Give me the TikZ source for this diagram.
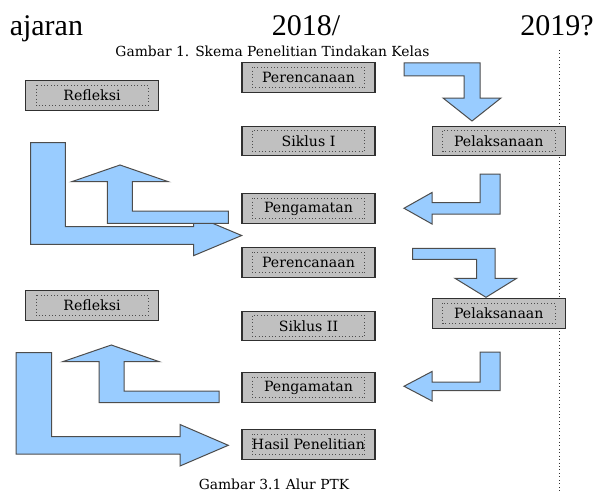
\documentclass[tikz,border=0pt]{standalone}
\usepackage{fontspec}
\setmainfont{Liberation Serif}
\newfontfamily\labelfont{DejaVu Serif}
\definecolor{boxfill}{HTML}{C0C0C0}
\definecolor{boxline}{HTML}{303030}
\definecolor{arrowfill}{HTML}{99CCFF}
\definecolor{arrowline}{HTML}{4D4D4D}
\tikzset{
  pbox/.style={draw=boxline, fill=boxfill, line width=0.9pt, minimum width=99.75pt,
    minimum height=22pt, inner sep=0pt, text=black,
    font=\labelfont\fontsize{10.6pt}{12pt}\selectfont},
  innerdots/.style={draw=black!70, dotted, line width=0.5pt},
  blarrow/.style={fill=arrowfill, draw=arrowline, line width=0.75pt, line join=miter},
  bigtext/.style={inner sep=0pt, font=\fontsize{22.5pt}{26pt}\selectfont},
  captext/.style={inner sep=0pt, font=\labelfont\fontsize{10.4pt}{12pt}\selectfont},
}
\newcommand{\pbx}[4]{%
  \node[pbox] (#1) at (#2,#3) {#4};
  \draw[innerdots] ([xshift=8.25pt,yshift=-3.75pt]#1.north west) rectangle ([xshift=-8.25pt,yshift=3.75pt]#1.south east);}
\begin{document}
\begin{tikzpicture}[x=0.75pt,y=-0.75pt]
\useasboundingbox (0,0) rectangle (606,492);
% top texts
\node[bigtext, anchor=base west] (tajaran) at (9.5,36) {ajaran};
\node[bigtext, anchor=base west] (t2018) at (271.5,35.5) {2018/};
\node[bigtext, anchor=base east] (t2019) at (594,35.5) {2019?};
\node[captext, anchor=base] (cap1) at (272.5,56.5) {Gambar 1. Skema Penelitian Tindakan Kelas};
\node[captext, anchor=base] (cap2) at (274,489.5) {Gambar 3.1 Alur PTK};
% dotted vertical line
\coordinate (vtop) at (559.5,50);
\coordinate (vbot) at (559.5,492);
\draw[dotted, line width=0.6pt, black!80] (vtop) -- (vbot);
% boxes
\pbx{per1}{308.5}{77.5}{Perencanaan}
\pbx{ref1}{92}{95.5}{Refleksi}
\pbx{sik1}{308.5}{141}{Siklus I}
\pbx{pel1}{498.75}{141}{Pelaksanaan}
\pbx{pen1}{308.5}{208.5}{Pengamatan}
\pbx{per2}{308.5}{262.5}{Perencanaan}
\pbx{ref2}{92}{305.5}{Refleksi}
\pbx{pel2}{498.75}{313.5}{Pelaksanaan}
\pbx{sik2}{308.5}{326}{Siklus II}
\pbx{pen2}{308.5}{387.5}{Pengamatan}
\pbx{has}{308.5}{444.5}{Hasil Penelitian}
% arrows, cycle 1
\draw[blarrow] (404,63) -- (480,63) -- (480,98) -- (501,98) -- (472,121) -- (443,98) -- (464,98) -- (464,76) -- (404,76) -- cycle;
\draw[blarrow] (500,174) -- (500,214) -- (432,214) -- (432,224) -- (404,208.25) -- (432,192.5) -- (432,202.5) -- (480,202.5) -- (480,174) -- cycle;
\draw[blarrow] (30.7,142.7) -- (65.3,142.7) -- (65.3,226.7) -- (193.5,226.7) -- (193.5,215.3) -- (241.7,235.5) -- (193.5,255.7) -- (193.5,244.3) -- (30.7,244.3) -- cycle;
\draw[blarrow] (228.3,223.3) -- (107.3,223.3) -- (107.3,181.7) -- (71.7,181.7) -- (120,165) -- (168.3,181.7) -- (132.3,181.7) -- (132.3,211) -- (228.3,211) -- cycle;
% arrows, cycle 2
\draw[blarrow] (412.7,248.3) -- (495,248.3) -- (495,278.3) -- (516.7,278.3) -- (486,297.3) -- (455,278.3) -- (476.7,278.3) -- (476.7,259.3) -- (412.7,259.3) -- cycle;
\draw[blarrow] (500,352) -- (500,390.5) -- (432,390.5) -- (432,401) -- (404,386.25) -- (432,371.5) -- (432,382) -- (480,382) -- (480,352) -- cycle;
\draw[blarrow] (16,352.7) -- (51.7,352.7) -- (51.7,436.7) -- (180,436.7) -- (180,424.5) -- (228.3,445.3) -- (180,466) -- (180,454) -- (16,454) -- cycle;
\draw[blarrow] (219,402.7) -- (99,402.7) -- (99,361.7) -- (62.7,361.7) -- (111.3,345) -- (159.3,361.7) -- (124,361.7) -- (124,391) -- (219,391) -- cycle;
\end{tikzpicture}
\end{document}
